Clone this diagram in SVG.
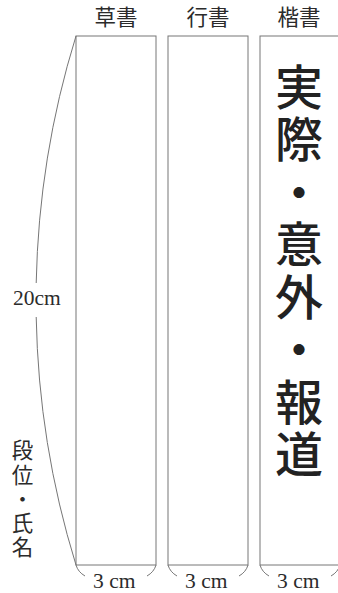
<svg xmlns="http://www.w3.org/2000/svg" width="338" height="593" viewBox="0 0 338 593">
<style>
  .strip { fill: #ffffff; stroke: #767676; stroke-width: 1; }
  .dim { fill: none; stroke: #767676; stroke-width: 1; }
  .title { font-family: "Noto Sans CJK JP", sans-serif; font-size: 21.5px; fill: #2b2b2b; text-anchor: middle; }
  .lat { font-family: "Liberation Serif", serif; font-size: 21.5px; fill: #2b2b2b; }
  .big { font-family: "Noto Sans CJK JP", sans-serif; font-size: 48px; font-weight: 500; fill: #222; writing-mode: vertical-rl; letter-spacing: 4.5px; }
  .side { font-family: "Noto Sans CJK JP", sans-serif; font-size: 21.5px; fill: #2b2b2b; writing-mode: vertical-rl; letter-spacing: 2.8px; }
</style>
<rect width="338" height="593" fill="#ffffff"/>

<g id="strip-sosho">
  <rect class="strip" x="76" y="36" width="80" height="529"/>
  <text class="title" x="116" y="25">草書</text>
</g>

<g id="strip-gyosho">
  <rect class="strip" x="168" y="36" width="80" height="529"/>
  <text class="title" x="208" y="25">行書</text>
</g>

<g id="strip-kaisho">
  <rect class="strip" x="260" y="36" width="80" height="529"/>
  <text class="title" x="299" y="25">楷書</text>
  <text class="big" x="299" y="62.5">実際・意外・報道</text>
</g>

<g id="name-area">
  <text class="side" x="22.5" y="439.3">段位・氏名</text>
</g>

<g id="connectors">
  <path class="dim" d="M76,36 A894.5,894.5 0 0 0 36.2,283 M36.2,317 A894.5,894.5 0 0 0 76,565"/>
  <path class="dim" d="M76,565 Q78,572 85,576 M156,565 Q154,572 147,576"/>
  <path class="dim" d="M168,565 Q170,572 177,576 M248,565 Q246,572 239,576"/>
  <path class="dim" d="M260,565 Q262,572 269,576 M340,565 Q338,572 331,576"/>
</g>

<g id="labels">
  <text class="lat" x="13" y="305">20cm</text>
  <text class="lat" x="93" y="588">3 cm</text>
  <text class="lat" x="185" y="588">3 cm</text>
  <text class="lat" x="277" y="588">3 cm</text>
</g>
</svg>
